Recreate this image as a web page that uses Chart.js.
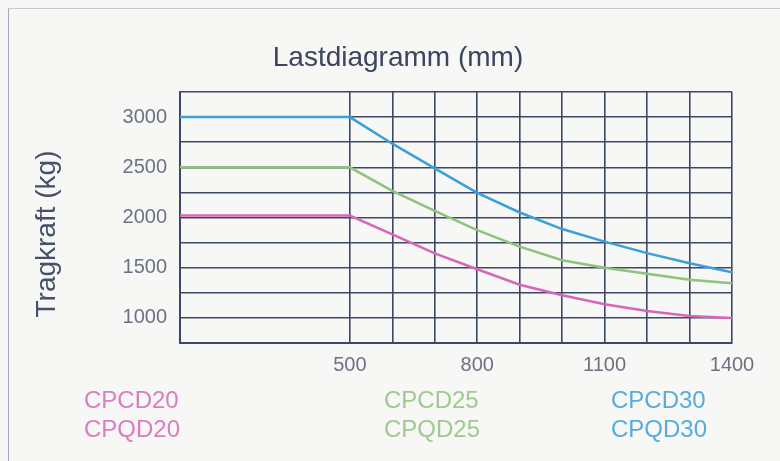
<!DOCTYPE html>
<html>
<head>
<meta charset="utf-8">
<script src="https://cdn.jsdelivr.net/npm/chart.js@4.4.1/dist/chart.umd.min.js"></script>
<style>
  html, body { margin: 0; padding: 0; background: #f7f7f5; }
  #wrap { position: relative; width: 780px; height: 461px; overflow: hidden; }
  #frame { position: absolute; left: 8px; top: 8px; width: 800px; height: 480px;
    border-left: 1px solid #a3abbb; border-top: 1px solid #c4cad4; }
  canvas { position: absolute; left: 0; top: 0; }
</style>
</head>
<body>
<div id="wrap">
  <div id="frame"></div>
  <canvas id="load-chart" width="780" height="461"></canvas>
</div>
<script>
// Lastabstand (mm) and Tragkraft (kg)
const loadCentres = [100, 500, 600, 700, 800, 900, 1000, 1100, 1200, 1300, 1400]
const capacity30 = [3000, 3000, 2735, 2490, 2245, 2050, 1885, 1760, 1645, 1545, 1455]
const capacity25 = [2500, 2500, 2265, 2065, 1875, 1710, 1575, 1500, 1440, 1380, 1345]
const capacity20 = [2020, 2020, 1832, 1643, 1485, 1330, 1225, 1135, 1068, 1020, 1000]

const xTickLabels = [500, 800, 1100, 1400]
const yTickLabels = [1000, 1500, 2000, 2500, 3000]

const models20 = ["CPCD20", "CPQD20"]
const models25 = ["CPCD25", "CPQD25"]
const models30 = ["CPCD30", "CPQD30"]

const chartTitle = "Lastdiagramm (mm)"
const yTitle = "Tragkraft (kg)"

const colors = {
  c20: "#d866b6",
  c25: "#8ec27d",
  c30: "#3a9fdb",
  grid: "#3c4864",
  tick: "#6c7282",
  title: "#3b455e",
}

const font = "'Liberation Sans', Arial, sans-serif"

const toPoints = (values) => loadCentres.map((x, i) => ({ x: x, y: values[i] }))

// titles and the two-line model legend under the plot
const labelsPlugin = {
  id: "labels",
  afterDraw: (chart) => {
    const ctx = chart.ctx
    ctx.save()

    ctx.fillStyle = colors.title
    ctx.font = `28px ${font}`
    ctx.textAlign = "center"
    ctx.textBaseline = "middle"
    ctx.fillText(chartTitle, 398, 58)

    ctx.save()
    ctx.translate(47, 234)
    ctx.rotate(-Math.PI / 2)
    ctx.fillStyle = "#46506a"
    ctx.fillText(yTitle, 0, 0)
    ctx.restore()

    ctx.font = `24px ${font}`
    ctx.textAlign = "left"
    const columns = [[models20, colors.c20, 84], [models25, colors.c25, 384], [models30, colors.c30, 611]]
    columns.forEach(([names, color, x]) => {
      ctx.fillStyle = color
      ctx.globalAlpha = 0.85
      names.forEach((name, i) => ctx.fillText(name, x, 401 + i * 29))
    })

    ctx.restore()
  }
}

const makeSet = (label, values, color) => ({
  label: label,
  data: toPoints(values),
  borderColor: color,
  backgroundColor: color,
  borderWidth: 2.5,
  pointRadius: 0,
  tension: 0,
  fill: false,
})

const loadChart = document.querySelector("#load-chart")

if (loadChart) new Chart(loadChart, {
  type: "line",
  data: {
    datasets: [
      makeSet(models30.join(" / "), capacity30, colors.c30),
      makeSet(models25.join(" / "), capacity25, colors.c25),
      makeSet(models20.join(" / "), capacity20, colors.c20),
    ]
  },
  options: {
    responsive: false,
    animation: false,
    layout: { padding: { top: 92, right: 48, left: 0, bottom: 0 } },
    plugins: {
      legend: { display: false },
      tooltip: { enabled: false },
    },
    scales: {
      x: {
        type: "linear",
        min: 100,
        max: 1400,
        afterFit: (scale) => { scale.height = 118 },
        border: { color: colors.grid, width: 2 },
        grid: {
          drawTicks: false,
          lineWidth: 1.6,
          color: (c) => (c.tick && c.tick.value < 500) ? "rgba(0,0,0,0)" : colors.grid,
        },
        ticks: {
          stepSize: 100,
          autoSkip: false,
          maxRotation: 0,
          padding: 10,
          color: colors.tick,
          font: { family: font, size: 20 },
          callback: (v) => xTickLabels.includes(v) ? String(v) : "",
        }
      },
      y: {
        min: 750,
        max: 3250,
        afterFit: (scale) => { scale.width = 180 },
        border: { color: colors.grid, width: 2 },
        grid: { drawTicks: false, lineWidth: 1.6, color: colors.grid },
        ticks: {
          stepSize: 250,
          autoSkip: false,
          padding: 13,
          color: colors.tick,
          font: { family: font, size: 20 },
          callback: (v) => yTickLabels.includes(v) ? String(v) : "",
        }
      }
    }
  },
  plugins: [labelsPlugin]
});
</script>
</body>
</html>
